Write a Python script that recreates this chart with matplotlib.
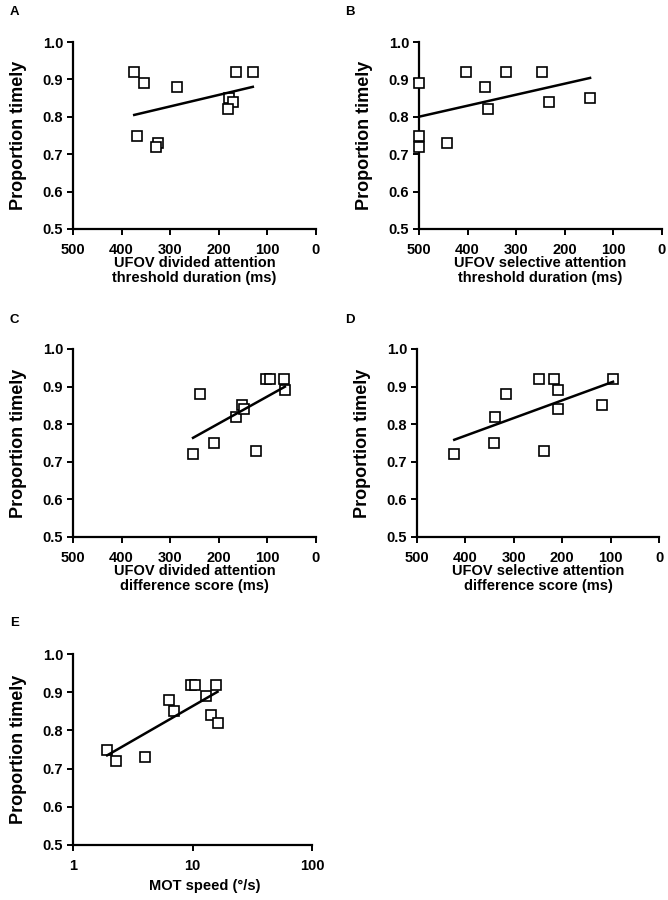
import numpy as np
import matplotlib
matplotlib.use('Agg')
import matplotlib.pyplot as plt
from matplotlib.ticker import FixedLocator, NullLocator

plt.rcParams['font.family'] = ['Liberation Sans', 'DejaVu Sans']
plt.rcParams['font.weight'] = 'bold'

# ============================================================
# DATA
# proportion timely per participant, paired with each predictor
# ============================================================

y_a = [0.92, 0.89, 0.88, 0.75, 0.73, 0.72, 0.92, 0.92, 0.85, 0.84, 0.82]
x_a = [374, 354, 286, 368, 326, 330, 165, 130, 178, 170, 182]

y_b = [0.89, 0.75, 0.72, 0.73, 0.92, 0.88, 0.82, 0.92, 0.92, 0.84, 0.85]
x_b = [500, 500, 500, 442, 403, 364, 358, 321, 247, 232, 148]

y_c = [0.72, 0.88, 0.75, 0.82, 0.85, 0.84, 0.73, 0.92, 0.92, 0.92, 0.89]
x_c = [253, 239, 209, 165, 152, 149, 123, 102, 95, 66, 64]

y_d = [0.72, 0.75, 0.82, 0.88, 0.92, 0.73, 0.92, 0.89, 0.84, 0.85, 0.92]
x_d = [423, 341, 338, 316, 248, 238, 216, 208, 208, 118, 95]

y_e = [0.75, 0.72, 0.73, 0.88, 0.85, 0.92, 0.92, 0.89, 0.92, 0.84, 0.82]
x_e = [1.93, 2.3, 3.97, 6.4, 7.0, 9.7, 10.5, 12.9, 15.7, 14.2, 16.2]

letters = ["A", "B", "C", "D", "E"]
xlabels = [
    "UFOV divided attention\nthreshold duration (ms)",
    "UFOV selective attention\nthreshold duration (ms)",
    "UFOV divided attention\ndifference score (ms)",
    "UFOV selective attention\ndifference score (ms)",
    "MOT speed (°/s)",
]
ylabel = "Proportion timely"

W, H = 668, 900

# axes boxes in pixels: left, right, top, bottom
boxes = [
    (73, 316, 42, 229),
    (419, 662, 42, 229),
    (73, 316, 349, 537),
    (417, 659, 349, 537),
    (73, 312, 654, 845),
]
letter_pos = [(10, 12), (345, 12), (10, 320), (345, 320), (10, 623)]

fig = plt.figure(figsize=(W / 100, H / 100), dpi=100)

datasets = [(x_a, y_a), (x_b, y_b), (x_c, y_c), (x_d, y_d), (x_e, y_e)]

for i, ((xs, ys), (l, r, t, b)) in enumerate(zip(datasets, boxes)):
    ax = fig.add_axes([l / W, 1 - b / H, (r - l) / W, (b - t) / H])
    xs = np.array(xs, dtype=float)
    ys = np.array(ys, dtype=float)
    is_log = (i == 4)

    ax.plot(xs, ys, linestyle="none", marker="s", markersize=7.5,
            markerfacecolor="white", markeredgecolor="black",
            markeredgewidth=1.2, clip_on=False, zorder=3)

    # regression line over data range
    if is_log:
        k, c = np.polyfit(np.log10(xs), ys, 1)
        xx = np.array([xs.min(), xs.max()])
        ax.plot(xx, k * np.log10(xx) + c, color="black", lw=1.8, zorder=4)
        ax.set_xscale("log")
        ax.set_xlim(1, 100)
        ax.xaxis.set_major_locator(FixedLocator([1, 10, 100]))
        ax.xaxis.set_minor_locator(NullLocator())
        ax.set_xticklabels(["1", "10", "100"])
    else:
        k, c = np.polyfit(xs, ys, 1)
        xx = np.array([xs.min(), xs.max()])
        ax.plot(xx, k * xx + c, color="black", lw=1.8, zorder=4)
        ax.set_xlim(500, 0)
        ax.set_xticks([500, 400, 300, 200, 100, 0])

    ax.set_ylim(0.5, 1.0)
    ax.set_yticks([0.5, 0.6, 0.7, 0.8, 0.9, 1.0])
    ax.set_yticklabels(["0.5", "0.6", "0.7", "0.8", "0.9", "1.0"])

    for s in ["top", "right"]:
        ax.spines[s].set_visible(False)
    for s in ["left", "bottom"]:
        ax.spines[s].set_linewidth(1.6)
    ax.tick_params(width=1.4, length=4, labelsize=10.5, pad=3)
    ax.tick_params(axis="x", pad=6)
    for lab in ax.get_xticklabels() + ax.get_yticklabels():
        lab.set_fontweight("bold")

    ax.set_ylabel(ylabel, fontsize=13, fontweight="bold")
    ax.yaxis.set_label_coords(-46 / (r - l), 0.5)
    ax.set_xlabel(xlabels[i], fontsize=10.5, fontweight="bold",
                  linespacing=1.1, va="top")
    if is_log:
        ax.xaxis.set_label_coords(0.55, -34 / (b - t))
    else:
        ax.xaxis.set_label_coords(0.5, -27 / (b - t))

    lx, ly = letter_pos[i]
    fig.text(lx / W, 1 - ly / H, letters[i], fontsize=9.5,
             fontweight="bold", ha="left", va="center")

fig.savefig("out.png", dpi=100)
plt.close(fig)
